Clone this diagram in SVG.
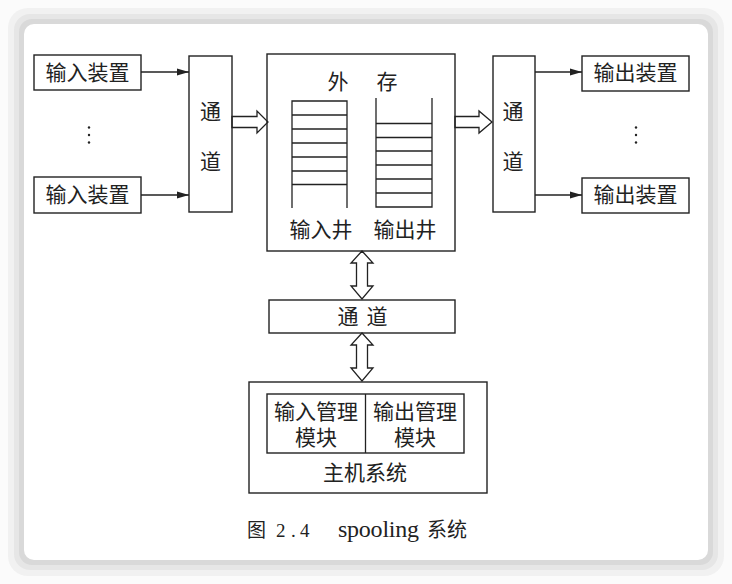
<svg xmlns="http://www.w3.org/2000/svg" width="732" height="584" viewBox="0 0 732 584">
<style>
.b{fill:none;stroke:#222;stroke-width:1.4}
.l{stroke:#222;stroke-width:1.3;fill:none}
.t{font-family:"Liberation Serif","Noto Sans CJK SC",serif;font-size:21px;fill:#222;text-anchor:middle;dominant-baseline:central}
.c{font-family:"Liberation Serif","Noto Sans CJK SC",serif;fill:#222}
.h{fill:#fff;stroke:#222;stroke-width:1.3;stroke-linejoin:miter}
</style>
<defs>
<marker id="ah" viewBox="0 0 12 8" refX="12" refY="4" markerWidth="12" markerHeight="8" markerUnits="userSpaceOnUse" orient="auto">
<path d="M0,0.5 L12,4 L0,7.5 Z" fill="#222"/>
</marker>
</defs>
<rect x="0" y="0" width="732" height="584" fill="#fbfbfb"/>
<rect x="8" y="8" width="716" height="568" rx="20" fill="#f1f1f1"/>
<rect x="14" y="14" width="704" height="556" rx="16" fill="#e6e6e6"/>
<rect x="19" y="19" width="694" height="546" rx="13" fill="#d9d9d9"/>
<rect x="24" y="24" width="684" height="536" rx="10" fill="#fff"/>

<g id="connectors">
<line class="l" x1="141" y1="72" x2="189" y2="72" marker-end="url(#ah)"/>
<line class="l" x1="141" y1="195" x2="189" y2="195" marker-end="url(#ah)"/>
<line class="l" x1="535" y1="72" x2="582" y2="72" marker-end="url(#ah)"/>
<line class="l" x1="535" y1="195" x2="582" y2="195" marker-end="url(#ah)"/>
<path class="h" d="M232,116.5 L257,116.5 L257,111 L268,122 L257,133 L257,127.5 L232,127.5 Z"/>
<path class="h" d="M455,116.5 L479,116.5 L479,111 L492,122 L479,133 L479,127.5 L455,127.5 Z"/>
<path class="h" d="M362,251 L373,263 L367.5,263 L367.5,286 L373,286 L362,299 L351,286 L356.5,286 L356.5,263 L351,263 Z"/>
<path class="h" d="M362,333 L373,345 L367.5,345 L367.5,368 L373,368 L362,381 L351,368 L356.5,368 L356.5,345 L351,345 Z"/>
<g fill="#222">
<circle cx="89" cy="127.5" r="1.2"/><circle cx="89" cy="135" r="1.2"/><circle cx="89" cy="142.5" r="1.2"/>
<circle cx="636" cy="127.5" r="1.2"/><circle cx="636" cy="135" r="1.2"/><circle cx="636" cy="142.5" r="1.2"/>
</g>
</g>

<g id="in1"><rect class="b" x="34" y="55" width="107" height="35"/><text class="t" x="87.5" y="73">输入装置</text></g>
<g id="in2"><rect class="b" x="34" y="177" width="107" height="36"/><text class="t" x="87.5" y="195">输入装置</text></g>
<g id="ch-left"><rect class="b" x="189" y="56" width="43" height="156"/><text class="t" x="210.5" y="112">通</text><text class="t" x="210.5" y="162">道</text></g>

<g id="storage">
<rect class="b" x="267" y="54" width="188" height="197"/>
<text class="t" x="338" y="82">外</text><text class="t" x="387" y="82">存</text>
<g class="l">
<path d="M292,208 L292,101 L347,101 L347,208"/>
<line x1="292" y1="115" x2="347" y2="115"/>
<line x1="292" y1="129" x2="347" y2="129"/>
<line x1="292" y1="143" x2="347" y2="143"/>
<line x1="292" y1="157" x2="347" y2="157"/>
<line x1="292" y1="171" x2="347" y2="171"/>
<line x1="292" y1="184.5" x2="347" y2="184.5"/>
<path d="M376,98 L376,207 L432,207 L432,98"/>
<line x1="376" y1="123.5" x2="432" y2="123.5"/>
<line x1="376" y1="137.5" x2="432" y2="137.5"/>
<line x1="376" y1="151" x2="432" y2="151"/>
<line x1="376" y1="165" x2="432" y2="165"/>
<line x1="376" y1="179" x2="432" y2="179"/>
<line x1="376" y1="193" x2="432" y2="193"/>
</g>
<text class="t" x="321" y="230">输入井</text><text class="t" x="405" y="230">输出井</text>
</g>

<g id="ch-right"><rect class="b" x="493" y="56" width="42" height="156"/><text class="t" x="513" y="112">通</text><text class="t" x="513" y="162">道</text></g>
<g id="out1"><rect class="b" x="582" y="56" width="107" height="35"/><text class="t" x="635.5" y="73">输出装置</text></g>
<g id="out2"><rect class="b" x="582" y="178" width="107" height="35"/><text class="t" x="635.5" y="195">输出装置</text></g>

<g id="ch-mid"><rect class="b" x="269" y="300" width="186" height="33"/><text class="t" x="348" y="316.5">通</text><text class="t" x="377" y="316.5">道</text></g>

<g id="host">
<rect class="b" x="249" y="382" width="238" height="111"/>
<rect class="b" x="267" y="394" width="197" height="59"/>
<line class="l" x1="365.5" y1="394" x2="365.5" y2="453"/>
<text class="t" x="316" y="412">输入管理</text><text class="t" x="316" y="438">模块</text>
<text class="t" x="415" y="412">输出管理</text><text class="t" x="415" y="438">模块</text>
<text class="t" x="365" y="473">主机系统</text>
</g>

<g id="caption">
<text class="c" x="247" y="537" style="font-size:19px">图</text>
<text class="c" x="276" y="537" style="font-size:19px">2</text>
<text class="c" x="291" y="537" style="font-size:19px">.</text>
<text class="c" x="300" y="537" style="font-size:19px">4</text>
<text class="c" x="338" y="537" style="font-size:24px" textLength="81" lengthAdjust="spacing">spooling</text>
<text class="c" x="427" y="537" style="font-size:20px">系统</text>
</g>
</svg>
